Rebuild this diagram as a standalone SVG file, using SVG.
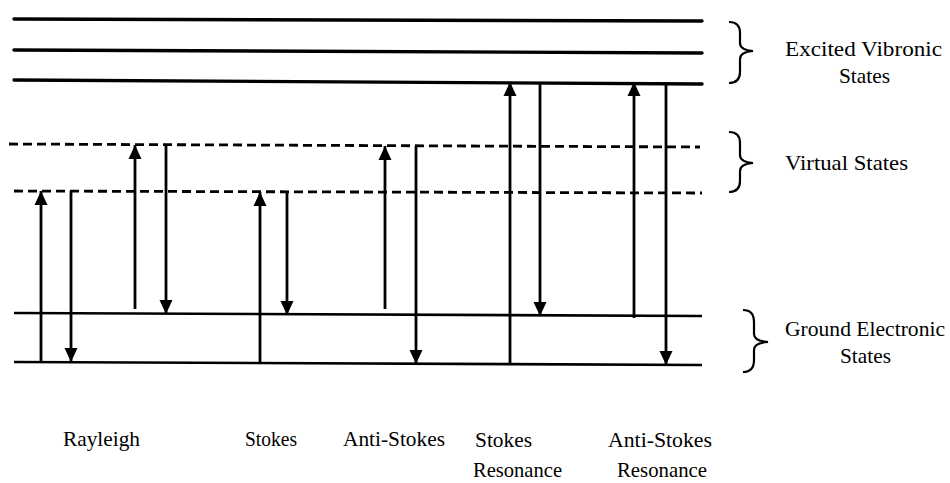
<svg xmlns="http://www.w3.org/2000/svg" width="950" height="483" viewBox="0 0 950 483">
  <style>
    .excited { stroke: #000; stroke-width: 3.4; stroke-linecap: round; fill: none; }
    .virtual { stroke: #000; stroke-width: 2.8; stroke-dasharray: 9 5; fill: none; }
    .ground { stroke: #000; stroke-width: 2.6; fill: none; }
    .arrow { stroke: #000; stroke-width: 2.8; fill: none; marker-end: url(#head); }
    .brace { stroke: #000; stroke-width: 2.2; fill: none; }
    text { font-family: "Liberation Serif", "Times New Roman", serif; font-size: 22px; fill: #000; }
  </style>
  <defs>
    <marker id="head" markerUnits="userSpaceOnUse" markerWidth="16" markerHeight="16" viewBox="0 0 16 16" refX="14" refY="8" orient="auto">
      <path d="M0,1.5 L14,8 L0,14.5 Z" fill="#000"/>
    </marker>
  </defs>

  <!-- Excited vibronic levels -->
  <g id="excited-states">
    <line class="excited" x1="14" y1="19" x2="702" y2="21"/>
    <line class="excited" x1="14" y1="50" x2="702" y2="53"/>
    <line class="excited" x1="14" y1="80" x2="702" y2="84"/>
    <path class="brace" d="M729,22 Q740,22 740,33 L740,43 Q740,50 753,51 Q740,52 740,59 L740,72 Q740,83 729,83"/>
    <text x="785" y="56" textLength="157" lengthAdjust="spacingAndGlyphs">Excited Vibronic</text>
    <text x="839" y="83" textLength="51" lengthAdjust="spacingAndGlyphs">States</text>
  </g>

  <!-- Virtual levels -->
  <g id="virtual-states">
    <line class="virtual" x1="9" y1="144" x2="700" y2="147"/>
    <line class="virtual" x1="14" y1="191" x2="702" y2="193"/>
    <path class="brace" d="M729,132 Q740,132 740,143 L740,155 Q740,162 753,163 Q740,164 740,171 L740,181 Q740,192 729,192"/>
    <text x="785" y="170" textLength="123" lengthAdjust="spacingAndGlyphs">Virtual States</text>
  </g>

  <!-- Ground electronic levels -->
  <g id="ground-states">
    <line class="ground" x1="14" y1="313" x2="702" y2="316"/>
    <line class="ground" x1="14" y1="362" x2="702" y2="365"/>
    <path class="brace" d="M743,310 Q754,310 754,322 L754,334 Q754,341 768,342 Q754,343 754,350 L754,360 Q754,372 743,372"/>
    <text x="785" y="336" textLength="160" lengthAdjust="spacingAndGlyphs">Ground Electronic</text>
    <text x="840" y="363" textLength="51" lengthAdjust="spacingAndGlyphs">States</text>
  </g>

  <!-- Transitions -->
  <g id="transitions">
    <!-- Rayleigh -->
    <line class="arrow" x1="41" y1="362" x2="41" y2="191"/>
    <line class="arrow" x1="71" y1="191" x2="71" y2="362"/>
    <line class="arrow" x1="135" y1="309" x2="135" y2="145"/>
    <line class="arrow" x1="166" y1="145" x2="166" y2="314"/>
    <!-- Stokes -->
    <line class="arrow" x1="260" y1="362" x2="260" y2="192"/>
    <line class="arrow" x1="287" y1="192" x2="287" y2="315"/>
    <!-- Anti-Stokes -->
    <line class="arrow" x1="385" y1="309" x2="385" y2="146"/>
    <line class="arrow" x1="416" y1="146" x2="416" y2="364"/>
    <!-- Stokes resonance -->
    <line class="arrow" x1="510" y1="364" x2="510" y2="82"/>
    <line class="arrow" x1="540" y1="82" x2="540" y2="316"/>
    <!-- Anti-Stokes resonance -->
    <line class="arrow" x1="634" y1="318" x2="634" y2="82"/>
    <line class="arrow" x1="666" y1="83" x2="666" y2="365"/>
  </g>

  <!-- Process labels -->
  <g id="labels">
    <text x="63" y="446" textLength="77" lengthAdjust="spacingAndGlyphs">Rayleigh</text>
    <text x="245" y="446" textLength="52" lengthAdjust="spacingAndGlyphs">Stokes</text>
    <text x="343" y="446" textLength="102" lengthAdjust="spacingAndGlyphs">Anti-Stokes</text>
    <text x="475" y="447" textLength="57" lengthAdjust="spacingAndGlyphs">Stokes</text>
    <text x="473" y="477" textLength="89" lengthAdjust="spacingAndGlyphs">Resonance</text>
    <text x="608" y="447" textLength="104" lengthAdjust="spacingAndGlyphs">Anti-Stokes</text>
    <text x="617" y="477" textLength="90" lengthAdjust="spacingAndGlyphs">Resonance</text>
  </g>
</svg>
